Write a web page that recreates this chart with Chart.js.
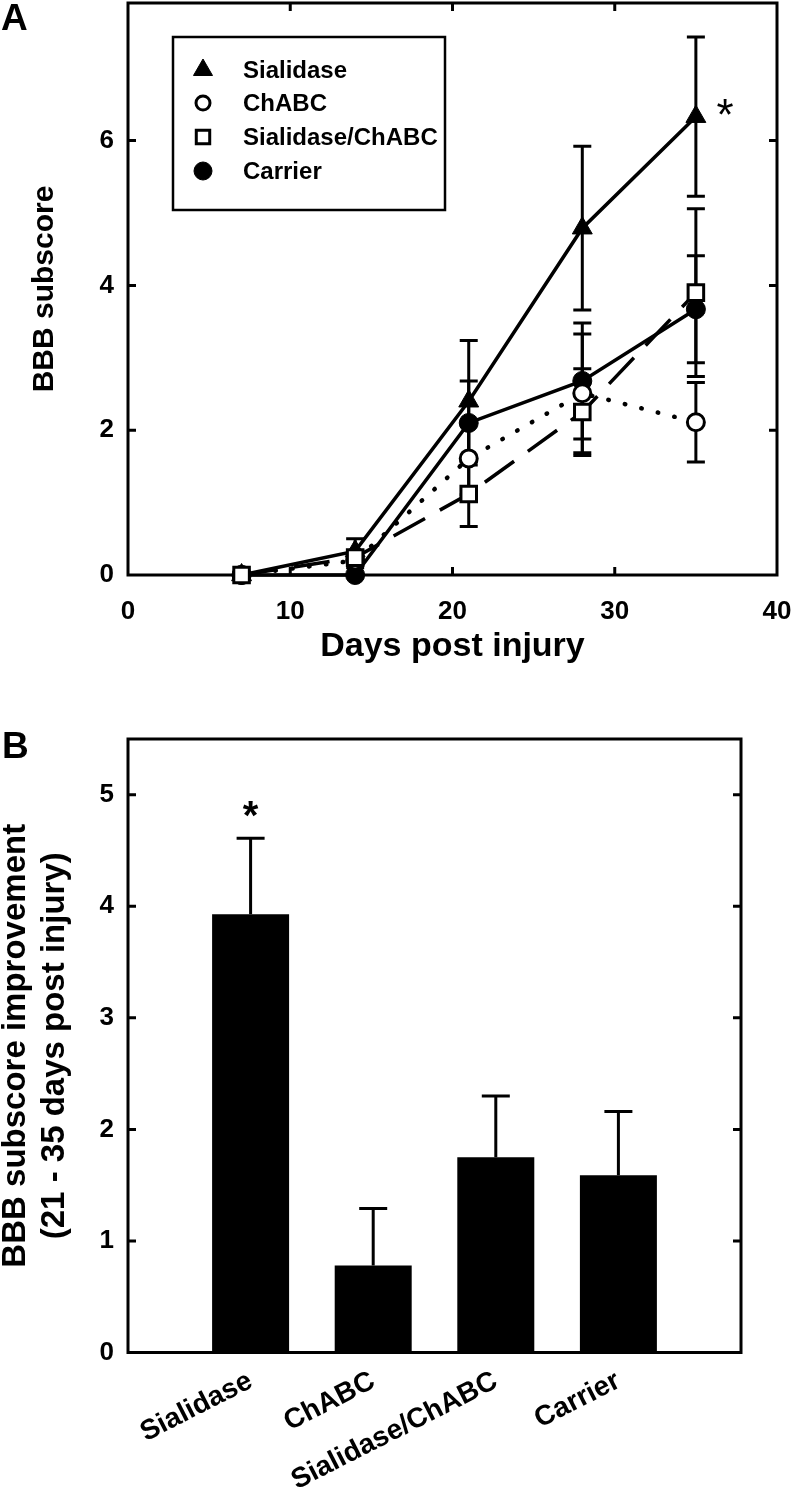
<!DOCTYPE html>
<html><head><meta charset="utf-8">
<script src="https://cdn.jsdelivr.net/npm/chart.js@4.4.1/dist/chart.umd.min.js"></script>
<style>
html,body{margin:0;padding:0;background:#fff;}
#wrap{position:relative;width:792px;height:1497px;overflow:hidden;background:#fff;}
#ca{position:absolute;left:0;top:0;}
#cb{position:absolute;left:0;top:700px;}
.pl{position:absolute;font-family:'Liberation Sans',Arial,sans-serif;font-weight:bold;font-size:37px;line-height:1;color:#000;}
</style></head><body>
<div id="wrap">
<canvas id="ca" width="792" height="700"></canvas>
<canvas id="cb" width="792" height="797"></canvas>
<div class="pl" style="left:1px;top:-1px;">A</div>
<div class="pl" style="left:2px;top:727px;">B</div>
</div>
<script>
// ---------- Panel A data ----------
const days = [7, 14, 21, 28, 35];
const sialidase = [0, 0.33, 2.40, 4.79, 6.33];
const sialidaseErr = [0, 0.17, 0.84, 1.13, 1.10];
const chabc = [0, 0.20, 1.61, 2.51, 2.11];
const chabcErr = [0, 0.10, 0.50, 0.82, 0.55];
const combo = [0, 0.24, 1.12, 2.25, 3.90];
const comboErr = [0, 0.10, 0.45, 0.60, 1.16];
const carrier = [0, 0, 2.10, 2.68, 3.67];
const carrierErr = [0, 0, 0.58, 0.80, 0.74];
const seriesNames = ['Sialidase', 'ChABC', 'Sialidase/ChABC', 'Carrier'];
const xTicksA = [0, 10, 20, 30, 40];
const yTicksA = [0, 2, 4, 6];
const starA = {x: 36.8, y: 6.42};

// ---------- Panel B data ----------
const categories = ['Sialidase', 'ChABC', 'Sialidase/ChABC', 'Carrier'];
const improvement = [3.93, 0.78, 1.75, 1.59];
const improvementErr = [0.68, 0.51, 0.55, 0.57];
const yTicksB = [0, 1, 2, 3, 4, 5];
const starB = {x: 1, y: 4.86};

const FONT = "'Liberation Sans', Arial, sans-serif";
Chart.defaults.font.family = FONT;
Chart.defaults.font.weight = 'bold';
Chart.defaults.color = '#000';

function pts(ys) { return days.map((d, i) => ({x: d, y: ys[i]})); }
function noPad(s) { s.paddingTop = 0; s.paddingBottom = 0; s.paddingLeft = 0; s.paddingRight = 0; }

function framePlugin(xMarks) {
  return {
    id: 'frame',
    beforeDatasetsDraw(chart) {
      const {ctx, chartArea: a, scales} = chart;
      ctx.save();
      ctx.strokeStyle = '#000';
      ctx.lineWidth = 3;
      ctx.strokeRect(a.left, a.top, a.right - a.left, a.bottom - a.top);
      const L = 8;
      ctx.beginPath();
      scales.y.ticks.forEach(t => {
        const y = scales.y.getPixelForValue(t.value);
        if (Math.abs(y - a.bottom) < 2) return;
        ctx.moveTo(a.left, y); ctx.lineTo(a.left + L, y);
        ctx.moveTo(a.right, y); ctx.lineTo(a.right - L, y);
      });
      if (xMarks) {
        scales.x.ticks.forEach(t => {
          const x = scales.x.getPixelForValue(t.value);
          if (Math.abs(x - a.left) < 2 || Math.abs(x - a.right) < 2) return;
          ctx.moveTo(x, a.bottom); ctx.lineTo(x, a.bottom - L);
          ctx.moveTo(x, a.top); ctx.lineTo(x, a.top + L);
        });
      }
      ctx.stroke();
      ctx.restore();
    }
  };
}

const errorBarPlugin = {
  id: 'errbars',
  beforeDatasetsDraw(chart, args, opts) {
    const {ctx, scales} = chart;
    ctx.save();
    ctx.strokeStyle = '#000';
    ctx.lineWidth = opts.lineWidth || 2.5;
    chart.data.datasets.forEach(ds => {
      if (!ds.errors) return;
      ds.data.forEach((p, i) => {
        const e = ds.errors[i];
        if (!e) return;
        const x = scales.x.getPixelForValue(p.x);
        const y0 = scales.y.getPixelForValue(opts.upOnly ? p.y : p.y - e);
        const y1 = scales.y.getPixelForValue(p.y + e);
        const w = opts.cap / 2;
        ctx.beginPath();
        ctx.moveTo(x, y0); ctx.lineTo(x, y1);
        ctx.moveTo(x - w, y1); ctx.lineTo(x + w, y1);
        if (!opts.upOnly) { ctx.moveTo(x - w, y0); ctx.lineTo(x + w, y0); }
        ctx.stroke();
      });
    });
    ctx.restore();
  }
};

function starPlugin(pos, size, weight) {
  return {
    id: 'star',
    afterDatasetsDraw(chart) {
      const {ctx, scales} = chart;
      ctx.save();
      ctx.fillStyle = '#000';
      ctx.font = weight + ' ' + size + 'px ' + FONT;
      ctx.textAlign = 'center';
      ctx.textBaseline = 'middle';
      ctx.fillText('*', scales.x.getPixelForValue(pos.x), scales.y.getPixelForValue(pos.y) + size * 0.18);
      ctx.restore();
    }
  };
}

const legendBoxPlugin = {
  id: 'legendBox',
  afterDatasetsDraw(chart) {
    const ctx = chart.ctx;
    const box = {left: 173, top: 37, right: 445, bottom: 210};
    ctx.save();
    ctx.fillStyle = '#fff';
    ctx.fillRect(box.left, box.top, box.right - box.left, box.bottom - box.top);
    ctx.strokeStyle = '#000';
    ctx.lineWidth = 2.5;
    ctx.strokeRect(box.left, box.top, box.right - box.left, box.bottom - box.top);
    const rows = [70, 103, 137, 171];
    chart.data.datasets.forEach((ds, i) => {
      ctx.fillStyle = ds.pointBackgroundColor;
      ctx.strokeStyle = ds.pointBorderColor;
      ctx.lineWidth = ds.pointBorderWidth;
      Chart.helpers.drawPoint(ctx, {pointStyle: ds.pointStyle, radius: ds.legendRadius, rotation: 0, borderWidth: ds.pointBorderWidth}, 203, rows[i]);
      ctx.fillStyle = '#000';
      ctx.font = 'bold 24px ' + FONT;
      ctx.textAlign = 'left';
      ctx.textBaseline = 'middle';
      ctx.fillText(ds.label, 243, rows[i] + 1);
    });
    ctx.restore();
  }
};

new Chart(document.getElementById('ca'), {
  type: 'line',
  data: {
    datasets: [
      {label: seriesNames[0], data: pts(sialidase), errors: sialidaseErr, order: 1,
       borderColor: '#000', borderWidth: 3.5, pointStyle: 'triangle', pointRadius: 11.5,
       pointBackgroundColor: '#000', pointBorderColor: '#000', pointBorderWidth: 1, legendRadius: 11},
      {label: seriesNames[1], data: pts(chabc), errors: chabcErr, order: 2,
       borderColor: '#000', borderWidth: 4.5, borderDash: [0.5, 16.5], borderCapStyle: 'round',
       pointStyle: 'circle', pointRadius: 8.5, pointBackgroundColor: '#fff', pointBorderColor: '#000', pointBorderWidth: 3, legendRadius: 7},
      {label: seriesNames[2], data: pts(combo), errors: comboErr, order: 0,
       borderColor: '#000', borderWidth: 3.5, borderDash: [36, 17],
       pointStyle: 'rect', pointRadius: 11, pointBackgroundColor: '#fff', pointBorderColor: '#000', pointBorderWidth: 3, legendRadius: 9.5},
      {label: seriesNames[3], data: pts(carrier), errors: carrierErr, order: 3,
       borderColor: '#000', borderWidth: 3.5, pointStyle: 'circle', pointRadius: 9.5,
       pointBackgroundColor: '#000', pointBorderColor: '#000', pointBorderWidth: 1, legendRadius: 9}
    ]
  },
  options: {
    responsive: false, animation: false,
    datasets: {line: {clip: false, tension: 0, fill: false}},
    layout: {autoPadding: false, padding: {left: 0, right: 15, top: 3, bottom: 0}},
    plugins: {legend: {display: false}, tooltip: {enabled: false}, errbars: {cap: 18, lineWidth: 3}},
    scales: {
      x: {type: 'linear', min: 0, max: 40,
          afterBuildTicks: s => { s.ticks = xTicksA.map(v => ({value: v})); },
          ticks: {padding: 21, maxRotation: 0, font: {size: 26, weight: 'bold'}, color: '#000'},
          grid: {display: false, drawTicks: false}, border: {display: false},
          title: {display: true, text: 'Days post injury', color: '#000', font: {size: 34, weight: 'bold'}, padding: {top: 0, bottom: 33}},
          afterFit: s => { s.height = 125; noPad(s); }},
      y: {type: 'linear', min: 0, max: 7.9,
          afterBuildTicks: s => { s.ticks = yTicksA.map(v => ({value: v})); },
          ticks: {padding: 14, font: {size: 26, weight: 'bold'}, color: '#000'},
          grid: {display: false, drawTicks: false}, border: {display: false},
          title: {display: true, text: 'BBB subscore', color: '#000', font: {size: 30, weight: 'bold'}, padding: {top: 27, bottom: 0}},
          afterFit: s => { s.width = 128; noPad(s); }}
    }
  },
  plugins: [framePlugin(true), errorBarPlugin, starPlugin(starA, 44, 'normal'), legendBoxPlugin]
});

new Chart(document.getElementById('cb'), {
  type: 'bar',
  data: {
    datasets: [{
      label: 'BBB subscore improvement',
      data: categories.map((c, i) => ({x: i + 1, y: improvement[i]})),
      errors: improvementErr,
      backgroundColor: '#000', borderWidth: 0,
      barPercentage: 0.628, categoryPercentage: 1
    }]
  },
  options: {
    responsive: false, animation: false,
    layout: {autoPadding: false, padding: {left: 0, right: 51, top: 39, bottom: 0}},
    plugins: {legend: {display: false}, tooltip: {enabled: false}, errbars: {cap: 28, lineWidth: 3, upOnly: true}},
    scales: {
      x: {type: 'linear', min: 0, max: 5, offset: false,
          afterBuildTicks: s => { s.ticks = categories.map((c, i) => ({value: i + 1})); },
          ticks: {padding: 12, minRotation: 27, maxRotation: 27, autoSkip: false,
                  font: {size: 28, weight: 'bold'}, color: '#000',
                  callback: v => categories[v - 1]},
          grid: {display: false, drawTicks: false}, border: {display: false},
          afterFit: s => { s.height = 144.5; noPad(s); }},
      y: {type: 'linear', min: 0, max: 5.5,
          afterBuildTicks: s => { s.ticks = yTicksB.map(v => ({value: v})); },
          ticks: {padding: 14, font: {size: 26, weight: 'bold'}, color: '#000'},
          grid: {display: false, drawTicks: false}, border: {display: false},
          title: {display: true, text: ['BBB subscore improvement', '(21 - 35 days post injury)'], color: '#000',
                  font: {size: 33, weight: 'bold', lineHeight: 1.2}, padding: {top: -4, bottom: 0}},
          afterFit: s => { s.width = 128; noPad(s); }}
    }
  },
  plugins: [framePlugin(false), errorBarPlugin, starPlugin(starB, 40, 'bold')]
});
</script>
</body></html>
